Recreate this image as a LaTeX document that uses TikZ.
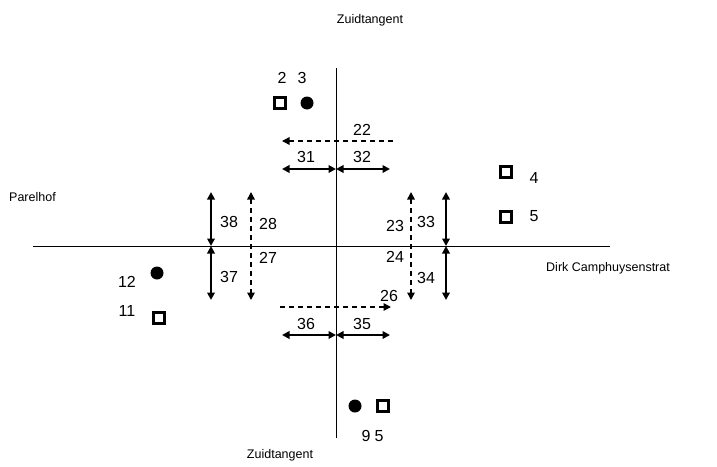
\documentclass[tikz,border=0pt]{standalone}
\usepackage{fontspec}
\setmainfont{Liberation Sans}
\usetikzlibrary{arrows.meta}

\begin{document}
\begin{tikzpicture}[x=1pt,y=-1pt,
    tip/.tip={Triangle[length=7.5pt,width=7.5pt]},
    road/.style={line width=1pt},
    fixed/.style={line width=2pt,{tip}-{tip}},
    walk/.style={line width=1.5pt,dash pattern=on 5pt off 4pt},
    num/.style={font=\fontsize{16}{18}\selectfont,inner sep=0pt},
    street/.style={font=\fontsize{12.5}{14}\selectfont,inner sep=0pt},
    lamp/.style={line width=3pt},
    bulb/.style={fill=black}]
          \useasboundingbox (0,0) rectangle (717,466);
          % roads
          \draw[road] (336, 68) -- (336, 438);
          \draw[road] (33, 246) -- (610, 246);
          \node[street] (north) at (370, 20) {Zuidtangent};
          \node[street] (south) at (280, 455) {Zuidtangent};
          \node[street,anchor=west] (west) at (9, 197) {Parelhof};
          \node[street,anchor=west] (east) at (546, 268) {Dirk Camphuysenstrat};
          % north
          \draw[walk,{tip}-] (282, 141) -- (394, 141);
          \node[num] (n22) at (362, 130) {22};
          \draw[fixed] (282, 169) -- (336, 169);
          \draw[fixed] (336, 169) -- (390, 169);
          \node[num] (n31) at (306, 157) {31};
          \node[num] (n32) at (362, 157) {32};
          % south
          \draw[walk,-{tip}] (280, 307) -- (391, 307);
          \node[num] (n26) at (389, 296) {26};
          \draw[fixed] (282, 335) -- (336, 335);
          \draw[fixed] (336, 335) -- (390, 335);
          \node[num] (n36) at (306, 324) {36};
          \node[num] (n35) at (362, 324) {35};
          % west
          \draw[fixed] (211, 192) -- (211, 246);
          \draw[fixed] (211, 246) -- (211, 300);
          \node[num] (n38) at (229, 222) {38};
          \node[num] (n37) at (229, 277) {37};
          \draw[walk,{tip}-{tip}] (251, 192) -- (251, 300);
          \node[num] (n28) at (268, 224) {28};
          \node[num] (n27) at (268, 258) {27};
          % east
          \draw[fixed] (446, 192) -- (446, 246);
          \draw[fixed] (446, 246) -- (446, 300);
          \node[num] (n33) at (426, 222) {33};
          \node[num] (n34) at (426, 278) {34};
          \draw[walk,{tip}-{tip}] (411, 192) -- (411, 300);
          \node[num] (n23) at (395, 226) {23};
          \node[num] (n24) at (395, 257) {24};
          % signal heads
          \draw[lamp] (274.5, 97.5) rectangle (285.5, 108.5);
          \fill[bulb] (307, 103) circle (6.5);
          \node[num] (h2) at (282, 78) {2};
          \node[num] (h3) at (302, 78) {3};
          \draw[lamp] (500.5, 166.5) rectangle (511.5, 177.5);
          \node[num] (h4) at (534, 178) {4};
          \draw[lamp] (500.5, 211.5) rectangle (511.5, 222.5);
          \node[num] (h5) at (534, 216) {5};
          \fill[bulb] (157, 273) circle (6.5);
          \node[num] (h12) at (127, 282) {12};
          \draw[lamp] (153.5, 312.5) rectangle (164.5, 323.5);
          \node[num] (h11) at (127, 311) {11};
          \fill[bulb] (355, 406) circle (6.5);
          \draw[lamp] (377.5, 400.5) rectangle (388.5, 411.5);
          \node[num] (h9) at (366, 436) {9};
          \node[num] (h5b) at (379, 436) {5};
        \end{tikzpicture}
\end{document}
